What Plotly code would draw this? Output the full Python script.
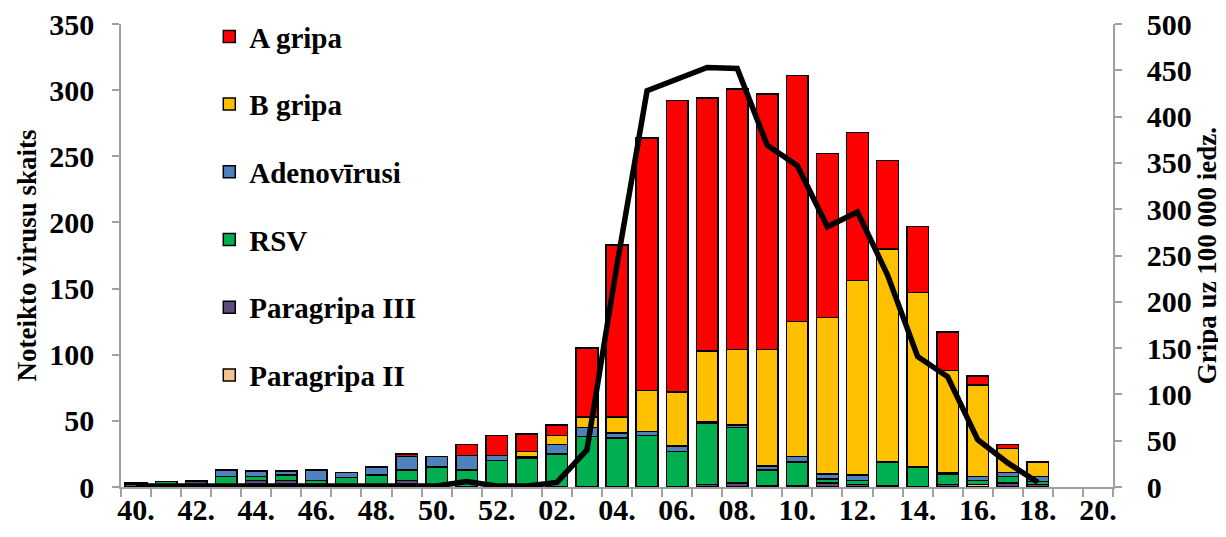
import plotly.graph_objects as go

weeks = ["40.", "41.", "42.", "43.", "44.", "45.", "46.", "47.", "48.", "49.", "50.", "51.", "52.",
         "01.", "02.", "03.", "04.", "05.", "06.", "07.", "08.", "09.", "10.", "11.", "12.", "13.",
         "14.", "15.", "16.", "17.", "18.", "19.", "20."]

paragripa_ii  = [0, 0, 0, 0, 0, 0, 0, 0, 0, 0, 0, 0, 0, 0, 0, 0, 0, 0, 0, 0, 0, 0, 0, 0, 0, 0, 0, 0, 2, 0, 0, None, None]
paragripa_iii = [2, 0, 4, 1, 5, 5, 0, 1, 1, 5, 0, 0, 0, 0, 0, 0, 0, 0, 0, 2, 3, 1, 1, 3, 2, 1, 0, 2, 0, 3, 2, None, None]
rsv           = [1, 4, 1, 7, 3, 4, 5, 6, 8, 8, 15, 13, 20, 22, 25, 38, 37, 39, 27, 46, 42, 12, 18, 3, 3, 18, 15, 8, 3, 5, 2, None, None]
adenovirusi   = [0, 0, 0, 5, 4, 3, 8, 4, 6, 10, 8, 11, 4, 1, 7, 7, 4, 3, 4, 1, 2, 3, 4, 4, 4, 0, 0, 1, 3, 3, 4, None, None]
b_gripa       = [0, 0, 0, 0, 0, 0, 0, 0, 0, 0, 0, 0, 0, 4, 7, 8, 12, 31, 41, 54, 57, 88, 102, 118, 147, 161, 132, 77, 69, 18, 11, None, None]
a_gripa       = [0, 0, 0, 0, 0, 0, 0, 0, 0, 2, 0, 8, 15, 13, 8, 52, 130, 191, 220, 191, 197, 193, 186, 124, 112, 67, 50, 29, 7, 3, 0, None, None]
gripa_100k    = [1, 1, 1, 2, 1, 1, 1, 1, 1, 1, 1, 6, 1, 1, 5, 40, 240, 428, 440, 453, 452, 369, 347, 281, 297, 229, 141, 119, 51, 26, 5, None, None]

tick_text = [w if int(w[:-1]) % 2 == 0 else "" for w in weeks]

FONT = "Liberation Serif"
AXIS_GRAY = "#a0a0a0"

series = [
    ("Paragripa II", paragripa_ii, "#FAC090", 6),
    ("Paragripa III", paragripa_iii, "#604A7B", 5),
    ("RSV", rsv, "#00B050", 4),
    ("Adenovīrusi", adenovirusi, "#4F81BD", 3),
    ("B gripa", b_gripa, "#FFC000", 2),
    ("A gripa", a_gripa, "#FF0000", 1),
]

fig = go.Figure()
for name, vals, color, rank in series:
    fig.add_trace(go.Bar(
        x=weeks, y=vals, name=name, legendgroup=name, legendrank=rank,
        marker=dict(color=color, line=dict(color="#000000", width=1.5)),
    ))

fig.add_trace(go.Scatter(
    x=weeks, y=gripa_100k, yaxis="y2", mode="lines",
    line=dict(color="#000000", width=5.5), showlegend=False, connectgaps=False,
))

# page body adds an 8px offset, so the figure is sized 8px smaller
fig.update_layout(
    width=1218, height=529,
    margin=dict(l=113, r=113, t=16, b=50, autoexpand=False),
    paper_bgcolor="white", plot_bgcolor="white",
    barmode="stack", bargap=0.28,
    font=dict(family=FONT, size=26, color="#000000", weight="bold"),
    showlegend=True,
    legend=dict(
        x=0.089, y=1.028, xanchor="left", yanchor="top",
        traceorder="grouped", tracegroupgap=27, maxheight=530,
        font=dict(family=FONT, size=29, weight="bold"),
        bgcolor="rgba(0,0,0,0)",
    ),
    xaxis=dict(
        type="category", categoryorder="array", categoryarray=weeks,
        tickmode="array", tickvals=weeks, ticktext=tick_text, tickangle=0,
        tickson="boundaries", ticks="outside", ticklen=8, tickcolor=AXIS_GRAY, tickwidth=1.5,
        showline=True, linecolor=AXIS_GRAY, linewidth=1.5, showgrid=False,
        tickfont=dict(family=FONT, size=30, weight="bold"), automargin=False,
        ticklabelstandoff=-5, ticklabeloverflow="allow",
        range=[-0.5, 32.5],
    ),
    yaxis=dict(
        range=[0, 350], dtick=50, ticks="outside", ticklen=7, tickcolor=AXIS_GRAY, tickwidth=1.5,
        showline=True, linecolor=AXIS_GRAY, linewidth=1.5, showgrid=False, zeroline=False,
        tickfont=dict(family=FONT, size=30, weight="bold"), ticklabelstandoff=12, automargin=False,
        ticklabeloverflow="allow",
        title=dict(text="Noteikto virusu skaits", font=dict(family=FONT, size=27, weight="bold"), standoff=5),
    ),
    yaxis2=dict(
        range=[0, 500], dtick=50, overlaying="y", side="right",
        ticks="outside", ticklen=7, tickcolor=AXIS_GRAY, tickwidth=1.5,
        showline=True, linecolor=AXIS_GRAY, linewidth=1.5, showgrid=False, zeroline=False,
        tickfont=dict(family=FONT, size=30, weight="bold"), ticklabelstandoff=19, automargin=False,
        ticklabeloverflow="allow",
        title=dict(text="Gripa uz 100 000 iedz.", font=dict(family=FONT, size=27, weight="bold"), standoff=6),
    ),
)

fig.write_html("out.html")
